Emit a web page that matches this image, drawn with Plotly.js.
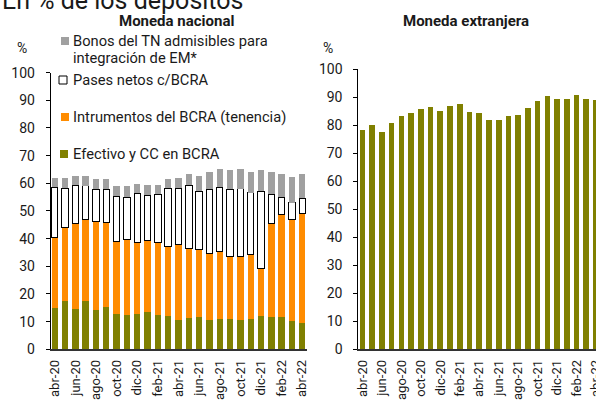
<!DOCTYPE html>
<html><head><meta charset="utf-8">
<script src="https://cdn.plot.ly/plotly-3.0.1.min.js"></script>
<style>html,body{margin:0;padding:0;background:#fff}#chart{width:596px;height:403px}</style>
</head><body><div id="chart"></div>
<script>
// ---- data ----
const months = ["abr-20","may-20","jun-20","jul-20","ago-20","sep-20","oct-20","nov-20","dic-20","ene-21","feb-21","mar-21","abr-21","may-21","jun-21","jul-21","ago-21","sep-21","oct-21","nov-21","dic-21","ene-22","feb-22","mar-22","abr-22"];
const efectivo = [14.8,17.5,14.6,17.5,14.3,15.4,12.9,12.5,12.9,13.6,12.5,12.1,10.7,11.3,11.7,10.7,11.1,11.0,10.7,11.1,11.9,11.7,11.8,10.3,9.6];
const instrumentos = [25.5,26.4,30.9,29.5,32.0,30.5,26.1,27.1,25.8,25.8,26.2,25.1,27.2,25.2,24.5,24.0,24.2,22.5,22.9,23.0,17.4,33.8,36.8,36.7,39.6];
const pases = [18.2,14.3,13.8,12.1,11.5,11.9,16.4,15.4,17.7,16.3,17.3,21.0,20.3,22.8,20.9,23.1,23.2,24.3,24.4,22.5,27.8,10.5,6.3,6.0,5.4];
const bonos = [3.3,3.6,3.3,3.5,3.7,3.6,3.6,4.0,3.4,3.7,3.4,3.2,3.6,3.9,5.6,6.2,6.7,7.0,7.1,7.5,7.6,8.0,8.5,9.4,8.8];
const extranjera = [78.3,80.0,77.5,80.8,83.2,84.3,85.7,86.5,85.1,86.8,87.5,84.8,84.3,81.8,81.9,83.3,83.7,86.2,88.8,90.5,89.3,89.5,90.7,89.3,89.0];
const seriesNames = ["Efectivo y CC en BCRA","Intrumentos del BCRA (tenencia)","Pases netos c/BCRA","Bonos del TN admisibles para integración de EM*"];
const panelTitles = ["Moneda nacional","Moneda extranjera"];
const mainTitle = "En % de los depósitos";

// ---- layout helpers (pixel -> paper) ----
const W = 596, H = 403;
const px = v => v / W;
const py = v => 1 - v / H;
const FONT = "Roboto, 'Noto Sans', sans-serif";
const TXT = "#1a1a1a";
const GRAY = "#a0a0a0", ORANGE = "#ff8c00", OLIVE = "#808000";

const leftW = 0.62, rightW = 0.58;
const traces = [
  {type:"bar", x:months, y:efectivo, name:seriesNames[0], marker:{color:OLIVE}, width:leftW, xaxis:"x", yaxis:"y", showlegend:false},
  {type:"bar", x:months, y:instrumentos, name:seriesNames[1], marker:{color:ORANGE}, width:leftW, xaxis:"x", yaxis:"y", showlegend:false},
  {type:"bar", x:months, y:pases, name:seriesNames[2], marker:{color:"#ffffff", line:{color:"#000000", width:1}}, width:leftW, xaxis:"x", yaxis:"y", showlegend:false},
  {type:"bar", x:months, y:bonos, name:seriesNames[3], marker:{color:GRAY}, width:leftW, xaxis:"x", yaxis:"y", showlegend:false},
  {type:"bar", x:months, y:extranjera, name:"Moneda extranjera", marker:{color:OLIVE}, width:rightW, xaxis:"x2", yaxis:"y2", showlegend:false}
];

const xCommon = {type:"category", categoryorder:"array", categoryarray:months, tickmode:"linear", tick0:0, dtick:2,
  tickangle:-90, ticks:"", showline:true, linecolor:"#333", linewidth:1.5, showgrid:false, zeroline:false,
  tickfont:{family:FONT, size:13, color:TXT}, ticklabelstandoff:4, fixedrange:true};
const yCommon = {range:[0,100], dtick:10, tick0:0, ticks:"outside", ticklen:4, tickcolor:"#000", tickwidth:1,
  showline:true, linecolor:"#000", linewidth:1, showgrid:false, zeroline:false,
  tickfont:{family:FONT, size:14, color:TXT}, ticklabelstandoff:8, fixedrange:true};

const ann = (text, x, y, opts) => Object.assign({text, xref:"paper", yref:"paper", x:px(x), y:py(y),
  xanchor:"left", yanchor:"middle", showarrow:false, font:{family:FONT, size:14.7, color:TXT}}, opts||{});

const legendY = [41, 58, 80, 117, 154];
const annotations = [
  ann(mainTitle, 0, 0.8, {font:{family:FONT, size:25, color:TXT}}),
  ann("<b>"+panelTitles[0]+"</b>", 176, 21, {xanchor:"center", font:{family:FONT, size:15, color:TXT}}),
  ann("<b>"+panelTitles[1]+"</b>", 466, 21, {xanchor:"center", font:{family:FONT, size:15, color:TXT}}),
  ann("%", 21.5, 48, {xanchor:"center", font:{family:FONT, size:14, color:TXT}}),
  ann("%", 328, 48, {xanchor:"center", font:{family:FONT, size:14, color:TXT}}),
  ann("Bonos del TN admisibles para", 70.5, legendY[0]),
  ann("integración de EM*", 70.5, legendY[1]),
  ann(seriesNames[2], 70.5, legendY[2]),
  ann(seriesNames[1], 70.5, legendY[3]),
  ann(seriesNames[0], 70.5, legendY[4])
];
const sq = (cx, cy, fill, line) => ({type:"rect", xref:"paper", yref:"paper", x0:px(cx-4), x1:px(cx+4), y0:py(cy+4), y1:py(cy-4),
  fillcolor:fill, line:line||{width:0}});
const shapes = [
  sq(65, 41, GRAY),
  sq(63, 80, "#ffffff", {color:"#000", width:1}),
  sq(65, 117, ORANGE),
  sq(64, 154, OLIVE)
];

const layout = {
  width:W, height:H, margin:{l:0, r:0, t:0, b:0}, paper_bgcolor:"#fff", plot_bgcolor:"#fff",
  barmode:"stack", showlegend:false, font:{family:FONT, color:TXT},
  xaxis:Object.assign({}, xCommon, {domain:[px(50.7), px(306.7)], range:[-0.39, 24.43], anchor:"y"}),
  yaxis:Object.assign({}, yCommon, {domain:[py(349.3), py(72.6)], anchor:"x"}),
  xaxis2:Object.assign({}, xCommon, {domain:[px(358.3), 1], range:[-0.43, 24.0], anchor:"y2"}),
  yaxis2:Object.assign({}, yCommon, {domain:[py(349.3), py(69.3)], anchor:"x2"}),
  annotations, shapes
};
Plotly.newPlot("chart", traces, layout, {staticPlot:true, displayModeBar:false});
</script></body></html>
